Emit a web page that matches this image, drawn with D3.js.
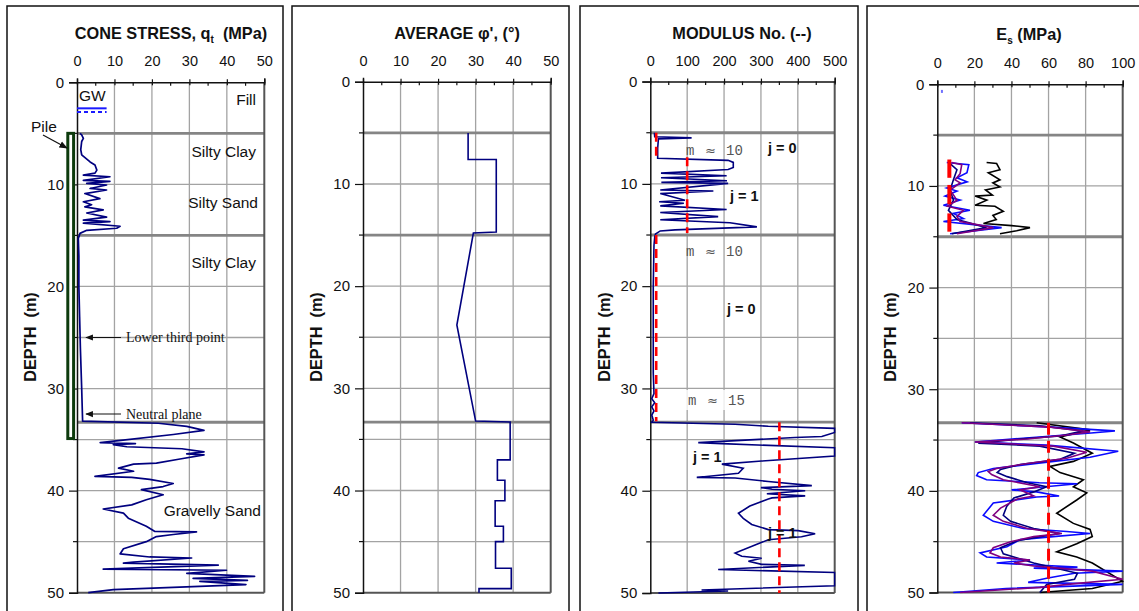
<!DOCTYPE html>
<html><head><meta charset="utf-8">
<script src="https://cdn.jsdelivr.net/npm/d3@7"></script>
<style>
body{margin:0;background:#fff}
svg{display:block}
text{white-space:pre}
</style></head>
<body><svg id="c" width="1139" height="611" font-family='Arial,"Liberation Sans",sans-serif'></svg>
<script>
// ---------- DATA ----------
const layerBounds = [5, 15, 33.3];
const depthTicks = [0, 10, 20, 30, 40, 50];
const coneTicks = [0, 10, 20, 30, 40, 50];
const phiTicks = [0, 10, 20, 30, 40, 50];
const modTicks = [0, 100, 200, 300, 400, 500];
const esTicks = [0, 20, 40, 60, 80, 100];

// cone stress [depth, qt]
const coneUpper = [[5.0,0.8],[5.16,1.25],[5.5,1.7],[5.8,1.25],[6.6,1.0],[7.1,1.25],[7.8,3.5],[8.1,4.8],[8.6,5.3],[8.9,4.8],[9.1,1.7],[9.25,8.8],[9.6,1.7],[9.7,8.8],[9.9,2.6],[10.06,7.9],[10.4,3.5],[10.55,7.9],[10.9,2.1],[11.4,6.1],[11.7,1.7],[12.0,3.9],[12.2,2.1],[12.5,7.0],[12.8,2.6],[13.2,7.9],[13.5,1.7],[13.65,8.8],[13.8,1.7],[14.1,11.5],[14.3,10.6],[14.5,2.6],[14.8,0.8],[15.3,0.35]];
const coneMid = [[17,0.5],[20,0.5],[23,0.7],[26,0.9],[30,1.25],[33.2,1.5]];
const coneLower = [[33.4,21.7],[33.7,29.3],[34.1,33.9],[34.5,25.7],[35.1,11.1],[35.3,6.2],[35.4,15.6],[35.5,9.7],[35.7,13.3],[35.9,28.0],[36.2,33.9],[36.4,29.3],[36.5,33.9],[36.9,27.5],[37.3,21.2],[37.4,15.1],[37.8,11.1],[38.1,15.1],[38.6,4.8],[38.7,14.6],[38.9,19.4],[39.3,25.7],[39.6,23.0],[39.9,17.2],[40.4,23.0],[40.9,18.5],[41.4,14.6],[41.8,7.0],[42.2,12.4],[42.7,13.7],[43.5,18.5],[44.0,20.8],[44.05,31.9],[44.3,25.7],[44.5,21.2],[45.0,18.5],[45.7,12.4],[46.2,11.5],[46.5,19.4],[46.6,30.6],[47.0,15.1],[47.1,12.4],[47.3,37.7],[47.7,7.0],[47.8,39.9],[48.1,29.3],[48.4,47.4],[48.6,31.0],[48.8,45.5],[48.9,32.8],[49.2,45.1],[49.7,9.7],[50.0,3.0]];
const gwDepth = [2.55, 2.9];
const pileRange = [5, 34.9];

// average phi [depth, phi]
const phiProfile = [[5,28],[7.6,28],[7.6,35.5],[14.7,35.5],[14.8,29.4],[23.8,25],[33.2,30],[33.3,39.2],[37.0,39.2],[37.0,35.8],[39.0,35.8],[39.0,37.8],[41.0,37.8],[41.0,35.2],[43.5,35.2],[43.5,37.4],[45.0,37.4],[45.0,35.3],[47.6,35.3],[47.6,39.5],[49.6,39.5],[49.6,30.9],[50,30.9]];

// modulus number [depth, m]
const modUpper = [[5.0,11],[5.4,12],[5.5,112],[5.6,22],[6.5,20],[7.5,20],[7.7,211],[7.9,225],[8.4,225],[8.6,211],[8.95,29],[9.2,207],[9.4,29],[9.7,208],[9.85,30],[9.95,211],[10.6,27],[10.7,171],[10.95,27],[11.6,94],[11.75,24],[11.9,91],[12.15,27],[12.5,207],[12.8,27],[13.2,184],[13.5,27],[13.8,216],[14.2,289],[14.5,67],[14.6,27],[14.9,14]];
const modMid = [[15.2,12],[16,10],[20,8],[25,8],[28.5,8],[30.5,10],[31,4],[31.4,12],[31.8,4],[32.2,10],[32.6,4],[33.1,8]];
const modLower = [[33.3,4],[33.5,230],[33.7,320],[33.9,500],[34.3,500],[34.7,465],[34.8,392],[35.3,130],[35.4,194],[35.8,500],[36.6,500],[37.1,302],[37.4,194],[37.8,252],[38.3,239],[38.7,126],[38.75,230],[39.1,320],[39.5,438],[39.7,300],[39.85,330],[40.0,420],[40.3,316],[40.5,420],[40.7,330],[40.8,320],[41.5,270],[42.2,239],[42.7,252],[43.3,275],[43.8,320],[43.9,401],[44.2,447],[44.5,410],[44.8,320],[45.3,284],[46.1,230],[46.4,248],[46.6,302],[46.9,266],[47.2,302],[47.3,419],[47.7,184],[48.0,500],[49.3,500],[49.7,139],[49.8,211],[50.0,22]];
// fitted modulus number segments [top, bottom, m]
const modFit = [[5,7.4,16],[7.4,14.8,100],[15,33.2,16],[33.3,50,350]];

// Es [depth, MPa]
const esBlueUp = [[7.7,5.1],[7.9,17],[8.7,16],[9.2,10.6],[9.6,16.1],[10.2,5.1],[10.5,10.6],[11.0,4.2],[11.4,12.3],[11.9,3.3],[12.4,17.6],[12.7,8.7],[13.2,14.1],[13.5,3.3],[14.1,34.7],[14.7,6.9]];
const esPurpleUp = [[7.7,7.8],[7.9,13.2],[8.8,12.3],[9.4,9.6],[9.7,12.3],[10.4,6.9],[11.4,10.6],[12.0,5.5],[12.4,14.1],[13.0,10.6],[13.5,12.3],[14.1,30.2],[14.7,10.6]];
const esNavyUp = [[7.8,6.9],[8.4,10.6],[9.4,8.7],[10.4,6.9],[11.4,8.7],[12.4,6.0],[13.3,10.6],[14.1,26.6],[14.7,7.8]];
const esBlackUp = [[7.7,26.6],[7.8,32],[8.4,33.8],[8.7,27.5],[9.4,33.8],[9.7,30],[10.1,33.8],[10.4,26],[10.9,29.7],[11.0,20.4],[11.4,26.7],[11.9,20.4],[12.0,31.1],[12.5,35.6],[12.9,30],[13.3,31.8],[13.7,24.9],[13.9,40.1],[14.1,50],[14.4,42.8],[14.7,33.8]];
const esBlueLow = [[33.3,13.2],[33.7,59],[34.1,95.8],[34.3,83],[34.7,55],[35.2,20.3],[35.5,59],[36.1,97.6],[36.7,82.4],[37.3,53.6],[37.8,30.2],[38.2,22.1],[38.5,21.2],[38.9,26.6],[39.2,55],[39.3,75.6],[39.9,40.1],[40.1,53.6],[40.5,65.7],[40.6,53.6],[41.2,30.2],[42.4,24.8],[43.0,30.2],[43.7,46.4],[44.0,69.8],[44.2,82.4],[44.5,62.5],[44.8,44.7],[45.5,37.5],[46.1,23.1],[46.5,26.6],[46.8,50],[47.1,32],[47.5,75.6],[47.6,52],[47.9,100],[48.1,74],[48.6,59],[49.0,49],[49.2,100],[49.6,37],[50.0,8.6]];
const esPurpleLow = [[33.3,13.2],[33.7,59],[34.2,82.4],[34.5,69.8],[34.9,48.6],[35.2,20.3],[35.6,62.5],[36.2,80.6],[36.8,69.8],[37.3,48.6],[37.8,32],[38.1,27.5],[38.4,29.3],[38.9,35.6],[39.6,55.3],[39.9,44.7],[40.5,52],[40.8,43.1],[41.7,34.1],[42.4,30.2],[43.0,35.6],[43.7,48.6],[44.2,67.2],[44.5,52],[45.0,39.5],[45.6,30.2],[46.1,28.4],[46.5,34.1],[46.8,50],[47.1,41.3],[47.4,52],[47.6,65.7],[47.9,83.6],[48.7,100],[49.1,75.6],[49.5,55.3],[50.0,12.3]];
const esNavyLow = [[33.3,17.6],[33.6,55],[34.1,78.8],[34.6,66.2],[34.9,44.7],[35.3,22.1],[35.6,55.3],[36.3,74],[36.9,66.2],[37.4,44.7],[37.9,34.1],[38.2,32.3],[38.6,37.7],[39.2,48.6],[39.6,59],[40.1,52],[40.7,41.3],[41.5,37.5],[42.4,35.6],[43.0,39.5],[43.7,52],[44.2,66.2],[44.5,55.3],[44.9,43.1],[45.6,34.1],[46.2,35.6],[46.6,43.1],[47.1,52],[48.1,75.6],[48.7,74],[49.2,59],[50.0,55.3]];
const esBlackLow = [[33.3,53.6],[34.0,82.4],[34.7,66.2],[35.3,73.4],[36.3,83.6],[37.1,73.4],[37.6,60.8],[38.2,66.2],[38.9,78.8],[39.6,73.4],[40.2,80.6],[40.9,75.2],[42.2,64.4],[43.2,73.4],[43.8,82.4],[44.5,83.6],[45.2,75.2],[46.0,64.4],[46.5,75.2],[47.1,83.6],[48.9,100],[49.6,83.6],[50.0,55.3]];
const esFitUp = [[7.4,9.2,6.5],[9.9,11.8,6.5],[12.7,14.5,6.5]];
const esFitLow = [[33.3,50,60]];

// ---------- DRAW ----------
const svg = d3.select("#c");
const FONT = 'Arial,"Liberation Sans",sans-serif';
const SERIF = '"Liberation Serif","Times New Roman",serif';
const MONO = '"Liberation Mono","Courier New",monospace';
svg.append("defs").html('<marker id="ah" viewBox="0 0 10 10" refX="9" refY="5" markerWidth="7" markerHeight="7" orient="auto-start-reverse"><path d="M0,1 L10,5 L0,9 z" fill="#111"/></marker>');

function panel(cfg){
  const g = svg.append("g");
  g.append("rect").attr("x",cfg.frame[0]).attr("y",6).attr("width",cfg.frame[1]-cfg.frame[0]).attr("height",640)
    .attr("fill","none").attr("stroke","#111").attr("stroke-width",1.5);
  const x = d3.scaleLinear().domain(cfg.xdom).range(cfg.xr);
  const y = d3.scaleLinear().domain([0,50]).range(cfg.yr);
  const [x0,x1] = cfg.xr, [y0,y1] = cfg.yr;
  const step = cfg.ticks[1]-cfg.ticks[0];
  g.selectAll(".vg").data(cfg.ticks.slice(1,-1)).join("line")
    .attr("x1",d=>x(d)).attr("x2",d=>x(d)).attr("y1",y0).attr("y2",y1)
    .attr("stroke","#a3a3a3").attr("stroke-width",1.3);
  const hgrid = d3.range(5,50,5);
  g.selectAll(".hg").data(hgrid).join("line")
    .attr("x1",x0).attr("x2",x1).attr("y1",d=>y(d)).attr("y2",d=>y(d))
    .attr("stroke","#a3a3a3").attr("stroke-width",1.3);
  g.selectAll(".lb").data(layerBounds).join("line")
    .attr("x1",x0).attr("x2",x1).attr("y1",d=>y(d)).attr("y2",d=>y(d))
    .attr("stroke","#858585").attr("stroke-width",2.8);
  g.append("line").attr("x1",x1).attr("x2",x1).attr("y1",y0).attr("y2",y1).attr("stroke","#555").attr("stroke-width",2);
  g.append("line").attr("x1",x0).attr("x2",x1).attr("y1",y1).attr("y2",y1).attr("stroke","#555").attr("stroke-width",2);
  const topAx = d3.axisTop(x).tickValues(cfg.ticks).tickSize(4).tickFormat(d3.format("d"));
  const ta = g.append("g").attr("transform",`translate(0,${y0})`).call(topAx);
  ta.select(".domain").attr("stroke","#111").attr("stroke-width",1.5);
  ta.selectAll(".tick line").attr("stroke","#111").attr("y2",-3).attr("y1",3).attr("stroke-width",1.2);
  ta.selectAll(".tick text").attr("y",-16).attr("font-size",14.5).attr("font-family",FONT).attr("fill","#111");
  const minorX = cfg.ticks.slice(0,-1).map(t=>t+step/2);
  g.selectAll(".mx").data(minorX).join("line")
    .attr("x1",d=>x(d)).attr("x2",d=>x(d)).attr("y1",y0).attr("y2",y0+3.5).attr("stroke","#111").attr("stroke-width",1.2);
  const leftAx = d3.axisLeft(y).tickValues(depthTicks).tickSize(8).tickFormat(d3.format("d"));
  const la = g.append("g").attr("transform",`translate(${x0},0)`).call(leftAx);
  la.select(".domain").attr("stroke","#111").attr("stroke-width",1.5);
  la.selectAll(".tick line").attr("stroke","#111").attr("stroke-width",1.2);
  la.selectAll(".tick text").attr("x",-13).attr("font-size",15).attr("font-family",FONT).attr("fill","#111");
  g.selectAll(".my").data(d3.range(5,50,10)).join("line")
    .attr("x1",x0-4).attr("x2",x0).attr("y1",d=>y(d)).attr("y2",d=>y(d)).attr("stroke","#111").attr("stroke-width",1.2);
  g.append("text").attr("transform",`translate(${cfg.dlx},337) rotate(-90)`).attr("text-anchor","middle")
    .attr("dy","0.35em").attr("font-size",16.3).attr("font-weight","bold").attr("fill","#111").text("DEPTH  (m)");
  const t = g.append("text").attr("x",cfg.tx).attr("y",cfg.ty).attr("text-anchor","middle")
    .attr("font-size",16.3).attr("font-weight","bold").attr("fill","#111");
  cfg.title(t);
  const clip = "clip"+cfg.id;
  g.append("clipPath").attr("id",clip).append("rect").attr("x",x0).attr("y",y0-2).attr("width",x1-x0+1).attr("height",y1-y0+3);
  return {g, x, y, clip};
}

const lineGen = (x,y)=>d3.line().x(d=>x(d[1])).y(d=>y(d[0]));

// ---- Panel 1: Cone stress ----
const p1 = panel({id:1, frame:[7,283], xr:[77,264.3], yr:[82.3,592.7], xdom:[0,50], ticks:coneTicks, dlx:30, tx:171, ty:39,
  title:t=>{t.append("tspan").text("CONE STRESS, q");t.append("tspan").attr("font-size",10).attr("dy",4).text("t");t.append("tspan").attr("dy",-4).text("  (MPa)");}});
{
  const {g,x,y} = p1;
  g.append("line").attr("x1",x(0)).attr("x2",x(7.9)).attr("y1",y(gwDepth[0])).attr("y2",y(gwDepth[0])).attr("stroke","#1a1aff").attr("stroke-width",2);
  g.append("line").attr("x1",x(0)).attr("x2",x(7.9)).attr("y1",y(gwDepth[1])).attr("y2",y(gwDepth[1])).attr("stroke","#1a1aff").attr("stroke-width",2).attr("stroke-dasharray","4,3");
  g.append("text").attr("x",x(0)+2).attr("y",y(0)+19).attr("font-size",15.5).attr("fill","#111").text("GW");
  g.append("rect").attr("x",67.8).attr("y",y(pileRange[0])).attr("width",5.8).attr("height",y(pileRange[1])-y(pileRange[0]))
    .attr("fill","#fff").attr("stroke","#0d3b0d").attr("stroke-width",3);
  g.append("text").attr("x",31).attr("y",132).attr("font-size",15.5).attr("fill","#111").text("Pile");
  g.append("line").attr("x1",43).attr("y1",135).attr("x2",67).attr("y2",148).attr("stroke","#111").attr("stroke-width",1.2).attr("marker-end","url(#ah)");
  g.append("path").datum(coneUpper.concat(coneMid,coneLower)).attr("d",lineGen(x,y)).attr("fill","none")
    .attr("stroke","#00007f").attr("stroke-width",1.7).attr("stroke-linejoin","round");
  const ann = [[25,"Lower third point"],[32.5,"Neutral plane"]];
  ann.forEach(([d,s])=>{
    g.append("line").attr("x1",121).attr("x2",86).attr("y1",y(d)).attr("y2",y(d)).attr("stroke","#111").attr("stroke-width",1.1).attr("marker-end","url(#ah)");
    g.append("text").attr("x",126).attr("y",y(d)).attr("dy","0.35em").attr("font-size",14).attr("font-family",SERIF).attr("fill","#111").text(s);
  });
  const soils = [[256,100,"Fill"],[256,152,"Silty Clay"],[258,203,"Silty Sand"],[256,263,"Silty Clay"],[261,511,"Gravelly Sand"]];
  soils.forEach(([sx,sy,s])=>g.append("text").attr("x",sx).attr("y",sy).attr("dy","0.35em").attr("text-anchor","end").attr("font-size",15.5).attr("fill","#111").text(s));
}

// ---- Panel 2: phi ----
const p2 = panel({id:2, frame:[292,569], xr:[363,550.7], yr:[81.8,592.7], xdom:[0,50], ticks:phiTicks, dlx:316, tx:457, ty:39,
  title:t=>t.text("AVERAGE φ', (°)")});
p2.g.append("path").datum(phiProfile).attr("d",lineGen(p2.x,p2.y)).attr("fill","none").attr("stroke","#00007f").attr("stroke-width",1.6);

// ---- Panel 3: modulus number ----
const p3 = panel({id:3, frame:[580,858], xr:[650.3,834.7], yr:[81.6,593], xdom:[0,500], ticks:modTicks, dlx:604, tx:742, ty:39,
  title:t=>t.text("MODULUS No. (--)")});
{
  const {g,x,y,clip} = p3;
  g.append("rect").attr("x",683).attr("y",390).attr("width",76).attr("height",20).attr("fill","#fff").attr("opacity",0.8);
  g.append("path").datum(modUpper.concat(modMid,modLower)).attr("d",lineGen(x,y)).attr("fill","none")
    .attr("stroke","#00007f").attr("stroke-width",1.6).attr("clip-path",`url(#${clip})`);
  g.selectAll(".mf").data(modFit).join("line").attr("x1",d=>x(d[2])).attr("x2",d=>x(d[2])).attr("y1",d=>y(d[0])).attr("y2",d=>y(d[1]))
    .attr("stroke","#ff0000").attr("stroke-width",2.6).attr("stroke-dasharray","9,5");
  const mLabels = [[686,150,"10"],[686,251,"10"],[688,400,"15"]];
  mLabels.forEach(([mx,my,s])=>{
    const t = g.append("text").attr("y",my).attr("dy","0.35em").attr("font-size",14)
      .attr("font-family",MONO).attr("fill","#555");
    t.append("tspan").attr("x",mx).text("m");
    t.append("tspan").attr("x",mx+19).attr("font-family","DejaVu Sans").attr("font-size",13).text("≈");
    t.append("tspan").attr("x",mx+40).text(s);
  });
  const jLabels = [[768,148,"j = 0"],[730,196,"j = 1"],[727,309,"j = 0"],[693,457,"j = 1"],[768,533,"j = 1"]];
  jLabels.forEach(([jx,jy,s])=>g.append("text").attr("x",jx).attr("y",jy).attr("dy","0.35em").attr("font-size",14.5)
    .attr("font-weight","bold").attr("fill","#111").text(s));
}

// ---- Panel 4: Es ----
const p4 = panel({id:4, frame:[867,1160], xr:[937.3,1122.7], yr:[84.3,592.5], xdom:[0,100], ticks:esTicks, dlx:890, tx:1029, ty:40,
  title:t=>{t.append("tspan").text("E");t.append("tspan").attr("font-size",10).attr("dy",4).text("s");t.append("tspan").attr("dy",-4).text(" (MPa)");}});
{
  const {g,x,y,clip} = p4;
  const series = [
    [esBlackUp,"#000"],[esBlackLow,"#000"],
    [esBlueUp,"#0a0aff"],[esBlueLow,"#0a0aff"],
    [esNavyUp,"#00007f"],[esNavyLow,"#00007f"],
    [esPurpleUp,"#800080"],[esPurpleLow,"#800080"]
  ];
  series.forEach(([d,c])=>g.append("path").datum(d).attr("d",lineGen(x,y)).attr("fill","none").attr("stroke",c)
    .attr("stroke-width",1.6).attr("clip-path",`url(#${clip})`));
  g.selectAll(".fu").data(esFitUp).join("line").attr("x1",d=>x(d[2])).attr("x2",d=>x(d[2])).attr("y1",d=>y(d[0])).attr("y2",d=>y(d[1]))
    .attr("stroke","#ff0000").attr("stroke-width",4);
  g.selectAll(".fl").data(esFitLow).join("line").attr("x1",d=>x(d[2])).attr("x2",d=>x(d[2])).attr("y1",d=>y(d[0])).attr("y2",d=>y(d[1]))
    .attr("stroke","#ff0000").attr("stroke-width",3).attr("stroke-dasharray","12,6");
  g.append("rect").attr("x",x(2.5)-1).attr("y",y(0.7)-1.5).attr("width",2).attr("height",3).attr("fill","#7070ff");
}
</script></body></html>
